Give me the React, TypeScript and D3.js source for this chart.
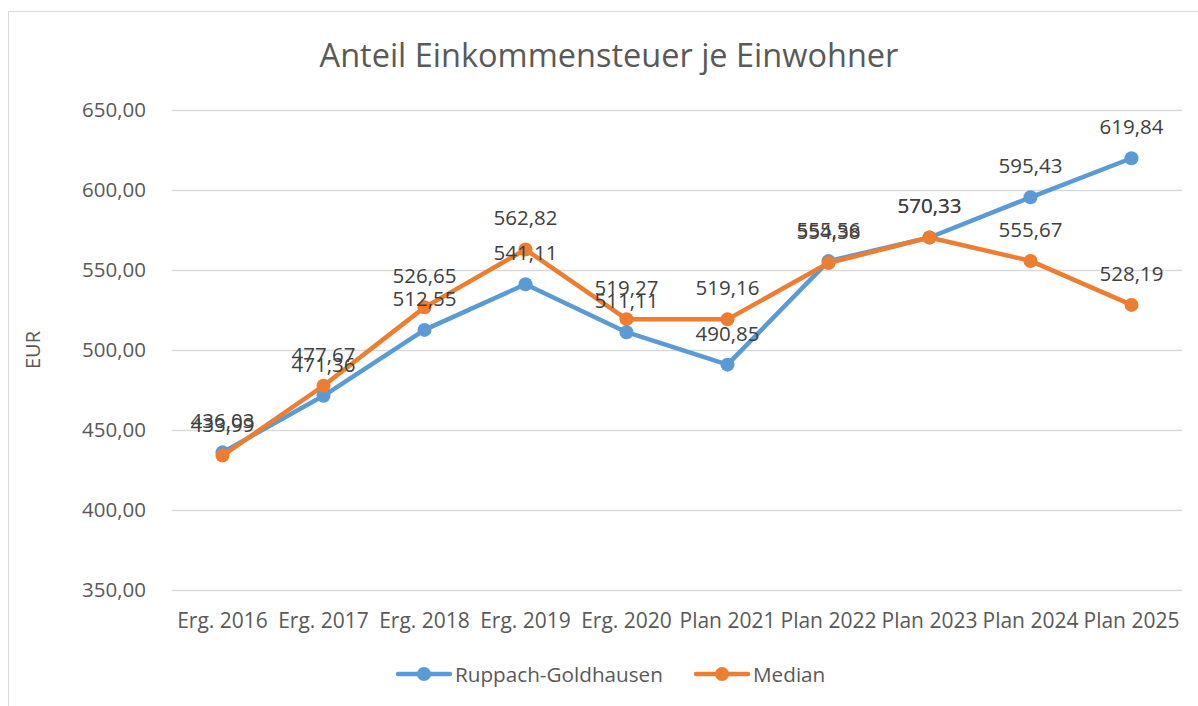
import { useRef, useEffect } from 'react';
import * as d3 from 'd3';

// Daten
const categories = ['Erg. 2016', 'Erg. 2017', 'Erg. 2018', 'Erg. 2019', 'Erg. 2020', 'Plan 2021', 'Plan 2022', 'Plan 2023', 'Plan 2024', 'Plan 2025'];
const ruppachValues = [436.03, 471.36, 512.55, 541.11, 511.11, 490.85, 555.56, 570.33, 595.43, 619.84];
const medianValues = [433.99, 477.67, 526.65, 562.82, 519.27, 519.16, 554.38, 570.33, 555.67, 528.19];
const yTicks = [350, 400, 450, 500, 550, 600, 650];
const seriesNames = ['Ruppach-Goldhausen', 'Median'];
const seriesColors = ['#5B9BD5', '#ED7D31'];

const W = 1198;
const H = 706;
const FONT = '"Open Sans", "Noto Sans", sans-serif';

const de = d3.formatLocale({ decimal: ',', thousands: '.', grouping: [3], currency: ['', ' €'] });
const fmt = de.format('.2f');

export default function App() {
    const svgRef = useRef<SVGSVGElement | null>(null);

    useEffect(() => {
        const svg = d3.select(svgRef.current).html('');

        // Rahmen
        svg.append('rect')
            .attr('x', 8.5).attr('y', 11.5)
            .attr('width', 1210).attr('height', 720)
            .attr('fill', '#fff').attr('stroke', '#d9d9d9');

        const x = d3.scaleBand<string>().domain(categories).range([172, 1182]);
        const y = d3.scaleLinear().domain([350, 650]).range([590, 110]);

        // Titel
        svg.append('text')
            .attr('x', 609).attr('y', 67)
            .attr('text-anchor', 'middle')
            .attr('font-family', FONT).attr('font-size', 32.5)
            .attr('fill', '#595959')
            .text('Anteil Einkommensteuer je Einwohner');

        // Gitternetz
        svg.append('g').selectAll('line')
            .data(yTicks).enter().append('line')
            .attr('x1', 172).attr('x2', 1182)
            .attr('y1', d => y(d) + 0.5).attr('y2', d => y(d) + 0.5)
            .attr('stroke', '#d9d9d9').attr('stroke-width', 1.3);

        // Y-Achse
        svg.append('g').selectAll('text')
            .data(yTicks).enter().append('text')
            .attr('x', 146).attr('y', d => y(d) + 7)
            .attr('text-anchor', 'end')
            .attr('font-family', FONT).attr('font-size', 20.5)
            .attr('fill', '#595959')
            .text(d => fmt(d));

        svg.append('text')
            .attr('transform', `translate(40, 350) rotate(-90)`)
            .attr('text-anchor', 'middle')
            .attr('font-family', FONT).attr('font-size', 20)
            .attr('fill', '#595959')
            .text('EUR');

        // X-Achse
        svg.append('g').selectAll('text')
            .data(categories).enter().append('text')
            .attr('x', d => (x(d) ?? 0) + x.bandwidth() / 2)
            .attr('y', 628)
            .attr('text-anchor', 'middle')
            .attr('font-family', FONT).attr('font-size', 21)
            .attr('fill', '#595959')
            .text(d => d);

        const allSeries = [ruppachValues, medianValues];
        const cx = (i: number) => (x(categories[i]) ?? 0) + x.bandwidth() / 2;
        const line = d3.line<number>().x((_, i) => cx(i)).y(d => y(d));

        allSeries.forEach((vals, s) => {
            svg.append('path')
                .attr('d', line(vals))
                .attr('fill', 'none')
                .attr('stroke', seriesColors[s])
                .attr('stroke-width', 4.5)
                .attr('stroke-linejoin', 'round')
                .attr('stroke-linecap', 'round');
            svg.append('g').selectAll('circle')
                .data(vals).enter().append('circle')
                .attr('cx', (_, i) => cx(i)).attr('cy', d => y(d))
                .attr('r', 7)
                .attr('fill', seriesColors[s]);
        });

        // Datenbeschriftungen
        allSeries.forEach(vals => {
            svg.append('g').selectAll('text')
                .data(vals).enter().append('text')
                .attr('x', (_, i) => cx(i)).attr('y', d => y(d) - 24)
                .attr('text-anchor', 'middle')
                .attr('font-family', FONT).attr('font-size', 20.5)
                .attr('fill', '#404040')
                .text(d => fmt(d));
        });

        // Legende
        const legendX = [398, 696];
        seriesNames.forEach((name, s) => {
            const g = svg.append('g').attr('transform', `translate(${legendX[s]}, 674)`);
            g.append('line')
                .attr('x1', 0).attr('x2', 52).attr('y1', 0).attr('y2', 0)
                .attr('stroke', seriesColors[s]).attr('stroke-width', 4.5)
                .attr('stroke-linecap', 'round');
            g.append('circle').attr('cx', 26).attr('cy', 0).attr('r', 7).attr('fill', seriesColors[s]);
            g.append('text')
                .attr('x', 57).attr('y', 7.5)
                .attr('font-family', FONT).attr('font-size', 20.7)
                .attr('fill', '#595959')
                .text(name);
        });
    }, []);

    return (
        <svg ref={svgRef} width={W} height={H}
            style={{ position: 'absolute', left: 0, top: 0, display: 'block' }} />
    );
}
